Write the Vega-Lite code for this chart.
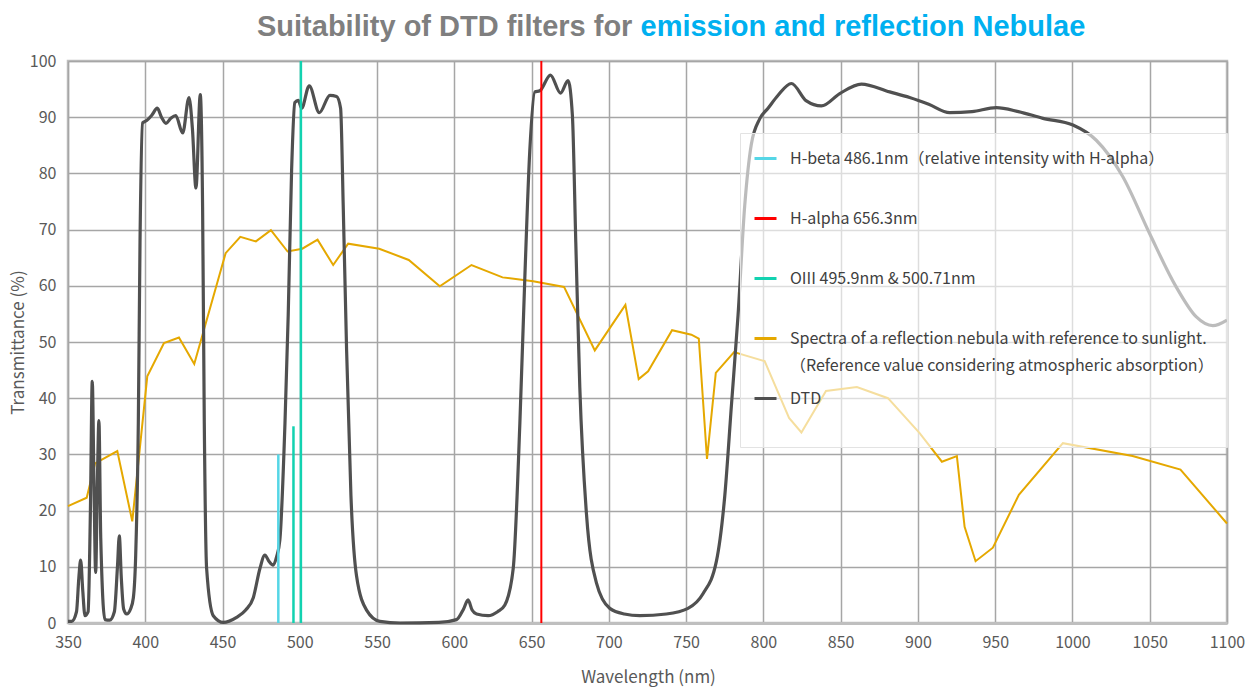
{
  "$schema": "https://vega.github.io/schema/vega-lite/v6.json",
  "autosize": {"type": "none"},
  "width": 1159,
  "height": 562,
  "padding": {"left": 68, "top": 61, "right": 27, "bottom": 77},
  "background": "white",
  "title": {
    "text": "Suitability of DTD filters for",
    "anchor": "start",
    "frame": "group",
    "dx": 189,
    "dy": 53,
    "offset": 0,
    "baseline": "alphabetic",
    "font": "Liberation Sans",
    "fontSize": 29,
    "fontWeight": "bold",
    "color": "#7f7f7f"
  },
  "config": {
    "view": {"stroke": "#bfbfbf", "strokeWidth": 2.5},
    "axis": {
      "gridColor": "#a6a6a6",
      "gridWidth": 1.5,
      "gridOpacity": 1,
      "ticks": false,
      "labelFlush": false,
      "labelFont": "Noto Sans CJK JP",
      "labelFontSize": 16,
      "labelColor": "#595959",
      "titleFont": "Noto Sans CJK JP",
      "titleFontSize": 17,
      "titleFontWeight": "normal",
      "titleColor": "#595959"
    },
    "legend": {
      "orient": "none",
      "legendX": 672,
      "legendY": 72,
      "symbolType": "stroke",
      "symbolSize": 484,
      "symbolStrokeWidth": 3,
      "labelFont": "Noto Sans CJK JP",
      "labelFontSize": 16,
      "labelColor": "#404040",
      "labelOffset": 12,
      "labelLimit": 800,
      "rowPadding": 12,
      "padding": 13,
      "fillColor": "rgba(255,255,255,0.62)",
      "strokeColor": "#e3e3e3"
    }
  },
  "datasets": {
    "dtd": [
      {"nm": 350, "value": 0.3}, {"nm": 352.4, "value": 0.3}, {"nm": 355.5, "value": 2}, {"nm": 357, "value": 8},
      {"nm": 358.2, "value": 11.2}, {"nm": 359.5, "value": 6}, {"nm": 361, "value": 1.3}, {"nm": 363, "value": 2},
      {"nm": 364.5, "value": 20}, {"nm": 365.7, "value": 43}, {"nm": 366.8, "value": 25}, {"nm": 367.9, "value": 9},
      {"nm": 369, "value": 25}, {"nm": 370, "value": 36}, {"nm": 371.2, "value": 15}, {"nm": 373.9, "value": 0.6},
      {"nm": 377, "value": 0.5}, {"nm": 380, "value": 2}, {"nm": 382, "value": 10}, {"nm": 383.2, "value": 15.5},
      {"nm": 384.5, "value": 8}, {"nm": 386, "value": 2.5}, {"nm": 388, "value": 1.6}, {"nm": 390.5, "value": 2.5},
      {"nm": 392.3, "value": 4.5}, {"nm": 393.8, "value": 12}, {"nm": 395.5, "value": 35.5}, {"nm": 396.6, "value": 67.7},
      {"nm": 398.3, "value": 89}, {"nm": 400.9, "value": 89.4}, {"nm": 404.1, "value": 90.3}, {"nm": 407.8, "value": 91.6},
      {"nm": 410.5, "value": 90}, {"nm": 413.4, "value": 88.9}, {"nm": 416.5, "value": 89.8}, {"nm": 419.7, "value": 90.3},
      {"nm": 424.2, "value": 87.2}, {"nm": 428.3, "value": 93.5}, {"nm": 430.5, "value": 88}, {"nm": 432.8, "value": 77.4},
      {"nm": 435.6, "value": 94}, {"nm": 437.1, "value": 74}, {"nm": 438.2, "value": 35.5}, {"nm": 439.7, "value": 9.7},
      {"nm": 444, "value": 1.3}, {"nm": 450.5, "value": 0.1}, {"nm": 459.1, "value": 1}, {"nm": 465, "value": 2.3},
      {"nm": 469.9, "value": 4.5}, {"nm": 474.2, "value": 9.7}, {"nm": 477.4, "value": 12.1}, {"nm": 480, "value": 11},
      {"nm": 482.8, "value": 10.3}, {"nm": 485, "value": 11.8}, {"nm": 487.1, "value": 14.8}, {"nm": 490.4, "value": 35.5},
      {"nm": 492.5, "value": 54.8}, {"nm": 494.7, "value": 80.6}, {"nm": 496.8, "value": 92.6}, {"nm": 499, "value": 93},
      {"nm": 501.2, "value": 91.6}, {"nm": 506.1, "value": 95.6}, {"nm": 512.6, "value": 90.8}, {"nm": 519.5, "value": 93.9},
      {"nm": 523.8, "value": 93.7}, {"nm": 526.4, "value": 91.6}, {"nm": 528.1, "value": 74.2}, {"nm": 530.3, "value": 48.4},
      {"nm": 533.1, "value": 22.6}, {"nm": 536.7, "value": 8.4}, {"nm": 543.2, "value": 2.3}, {"nm": 551.8, "value": 0.3},
      {"nm": 565, "value": 0}, {"nm": 590, "value": 0.1}, {"nm": 601.4, "value": 0.6}, {"nm": 606, "value": 2.5},
      {"nm": 608.9, "value": 4.1}, {"nm": 611.5, "value": 2.3}, {"nm": 614.4, "value": 1.6}, {"nm": 621.9, "value": 1.3},
      {"nm": 628, "value": 2}, {"nm": 632.7, "value": 3.2}, {"nm": 638.1, "value": 9.7}, {"nm": 642.4, "value": 35.5},
      {"nm": 645.6, "value": 61.3}, {"nm": 648.8, "value": 83.9}, {"nm": 652.1, "value": 94.5}, {"nm": 655.3, "value": 94.7},
      {"nm": 662.2, "value": 97.5}, {"nm": 668.7, "value": 94.3}, {"nm": 673.6, "value": 96.5}, {"nm": 676.4, "value": 90.3},
      {"nm": 678.6, "value": 67.7}, {"nm": 681.2, "value": 41.9}, {"nm": 685.5, "value": 19.4}, {"nm": 692, "value": 7.1},
      {"nm": 700.6, "value": 2.6}, {"nm": 710, "value": 1.6}, {"nm": 720, "value": 1.3}, {"nm": 737.2, "value": 1.6},
      {"nm": 751.2, "value": 2.6}, {"nm": 760.9, "value": 5.2}, {"nm": 769.6, "value": 11}, {"nm": 775, "value": 22.6},
      {"nm": 779.3, "value": 38.7}, {"nm": 783.6, "value": 54.8}, {"nm": 787.9, "value": 74.2}, {"nm": 792.2, "value": 85.2},
      {"nm": 797.6, "value": 89.7}, {"nm": 803, "value": 91.6}, {"nm": 809.5, "value": 93.9}, {"nm": 818.1, "value": 96},
      {"nm": 827.8, "value": 92.9}, {"nm": 837.5, "value": 92}, {"nm": 849.4, "value": 94.2}, {"nm": 863.4, "value": 95.9},
      {"nm": 881.7, "value": 94.5}, {"nm": 894.6, "value": 93.5}, {"nm": 907, "value": 92.3}, {"nm": 920.5, "value": 90.8},
      {"nm": 935, "value": 91}, {"nm": 950.7, "value": 91.7}, {"nm": 965, "value": 91}, {"nm": 980.9, "value": 89.8},
      {"nm": 1000.3, "value": 88.6}, {"nm": 1015.4, "value": 85.9}, {"nm": 1032.6, "value": 79.4}, {"nm": 1049.9, "value": 69.3},
      {"nm": 1067.1, "value": 59.8}, {"nm": 1080, "value": 54.5}, {"nm": 1090.8, "value": 52.9}, {"nm": 1100, "value": 53.9}
    ],
    "spectra": [
      {"nm": 350, "value": 20.8}, {"nm": 362.1, "value": 22.3}, {"nm": 367.5, "value": 28.4}, {"nm": 381.9, "value": 30.6},
      {"nm": 391.6, "value": 18.1}, {"nm": 401.3, "value": 43.9}, {"nm": 412.1, "value": 49.8}, {"nm": 421.8, "value": 50.8},
      {"nm": 431.7, "value": 46.1}, {"nm": 452, "value": 65.8}, {"nm": 461.5, "value": 68.7}, {"nm": 471.6, "value": 67.9},
      {"nm": 481.3, "value": 69.9}, {"nm": 492.1, "value": 66.1}, {"nm": 501.6, "value": 66.6}, {"nm": 511.5, "value": 68.2},
      {"nm": 521.6, "value": 63.7}, {"nm": 531.3, "value": 67.5}, {"nm": 551.4, "value": 66.6}, {"nm": 570.5, "value": 64.6},
      {"nm": 590.6, "value": 59.9}, {"nm": 611.1, "value": 63.7}, {"nm": 631.2, "value": 61.5}, {"nm": 651, "value": 60.8},
      {"nm": 671, "value": 59.8}, {"nm": 690.9, "value": 48.5}, {"nm": 710.7, "value": 56.6}, {"nm": 719.3, "value": 43.4},
      {"nm": 725.4, "value": 44.8}, {"nm": 740.9, "value": 52.1}, {"nm": 753.4, "value": 51.3}, {"nm": 758.2, "value": 50.6},
      {"nm": 763.5, "value": 29.2}, {"nm": 769.2, "value": 44.5}, {"nm": 781, "value": 48.2}, {"nm": 800.8, "value": 46.6},
      {"nm": 816.6, "value": 36.5}, {"nm": 824.6, "value": 33.9}, {"nm": 840.5, "value": 41.3}, {"nm": 860.5, "value": 42},
      {"nm": 880.6, "value": 40}, {"nm": 901.1, "value": 33.8}, {"nm": 915.5, "value": 28.7}, {"nm": 925.2, "value": 29.7},
      {"nm": 930.2, "value": 17.1}, {"nm": 937.3, "value": 11}, {"nm": 948.5, "value": 13.4}, {"nm": 965.3, "value": 22.8},
      {"nm": 993.8, "value": 32}, {"nm": 1038.9, "value": 29.7}, {"nm": 1069.9, "value": 27.3}, {"nm": 1100, "value": 17.7}
    ],
    "hbeta": [{"nm": 486.1, "top": 30}],
    "halpha": [{"nm": 656.3, "top": 100}],
    "oiii": [{"nm": 495.9, "top": 35}, {"nm": 500.71, "top": 100}]
  },
  "resolve": {"axis": {"x": "independent"}},
  "layer": [
    {
      "data": {"name": "spectra"},
      "transform": [{"calculate": "'Spectra of a reflection nebula with reference to sunlight.'", "as": "series"}],
      "mark": {"type": "line", "strokeWidth": 2},
      "encoding": {
        "x": {
          "field": "nm", "type": "quantitative",
          "scale": {"domain": [350, 1100], "nice": false, "zero": false},
          "axis": {
            "values": [350, 400, 450, 500, 550, 600, 650, 700, 750, 800, 850, 900, 950, 1000, 1050, 1100],
            "format": "d",
            "title": "Wavelength (nm)",
            "labelPadding": 11,
            "domainColor": "#bfbfbf",
            "domainWidth": 3,
            "titleX": 580,
            "titleY": 54,
            "titleAlign": "center",
            "titleBaseline": "middle"
          }
        },
        "y": {
          "field": "value", "type": "quantitative",
          "scale": {"domain": [0, 100], "nice": false},
          "axis": {
            "values": [0, 10, 20, 30, 40, 50, 60, 70, 80, 90, 100],
            "title": "Transmittance (%)",
            "labelPadding": 12,
            "domain": false,
            "titleX": -50,
            "titleY": 281,
            "titleAngle": -90,
            "titleAlign": "center",
            "titleBaseline": "middle"
          }
        },
        "color": {
          "field": "series", "type": "nominal",
          "scale": {
            "domain": [
              "H-beta 486.1nm（relative intensity with H-alpha）",
              "H-alpha 656.3nm",
              "OIII 495.9nm & 500.71nm",
              "Spectra of a reflection nebula with reference to sunlight.",
              "DTD"
            ],
            "range": ["#55d6e6", "#ff0000", "#12d2b0", "#e5a800", "#505050"]
          },
          "legend": {
            "title": null,
            "labelExpr": "datum.label == 'Spectra of a reflection nebula with reference to sunlight.' ? ['Spectra of a reflection nebula with reference to sunlight.\u00a0\u00a0\u00a0\u00a0\u00a0\u00a0\u00a0\u00a0', '\u00a0（Reference value considering atmospheric absorption）'] : [datum.label, '\u00a0']",
            "encode": {"labels": {"update": {"lineHeight": {"value": 27}}}}
          }
        }
      }
    },
    {
      "data": {"name": "dtd"},
      "transform": [{"calculate": "'DTD'", "as": "series"}],
      "mark": {"type": "line", "strokeWidth": 3.2, "interpolate": "monotone"},
      "encoding": {
        "x": {"field": "nm", "type": "quantitative", "axis": null},
        "y": {"field": "value", "type": "quantitative"},
        "color": {"field": "series", "type": "nominal"}
      }
    },
    {
      "data": {"name": "hbeta"},
      "transform": [{"calculate": "'H-beta 486.1nm（relative intensity with H-alpha）'", "as": "series"}],
      "mark": {"type": "rule", "strokeWidth": 2.5},
      "encoding": {
        "x": {"field": "nm", "type": "quantitative", "axis": null},
        "y": {"field": "top", "type": "quantitative"},
        "y2": {"datum": 0},
        "color": {"field": "series", "type": "nominal"}
      }
    },
    {
      "data": {"name": "oiii"},
      "transform": [{"calculate": "'OIII 495.9nm & 500.71nm'", "as": "series"}],
      "mark": {"type": "rule", "strokeWidth": 2.5},
      "encoding": {
        "x": {"field": "nm", "type": "quantitative", "axis": null},
        "y": {"field": "top", "type": "quantitative"},
        "y2": {"datum": 0},
        "color": {"field": "series", "type": "nominal"}
      }
    },
    {
      "data": {"name": "halpha"},
      "transform": [{"calculate": "'H-alpha 656.3nm'", "as": "series"}],
      "mark": {"type": "rule", "strokeWidth": 2},
      "encoding": {
        "x": {
          "field": "nm", "type": "quantitative",
          "axis": {
            "orient": "top",
            "title": "emission and reflection Nebulae",
            "labels": false,
            "ticks": false,
            "domain": false,
            "grid": false,
            "titleFont": "Liberation Sans",
            "titleFontSize": 29,
            "titleFontWeight": "bold",
            "titleColor": "#00b0f0",
            "titleX": 572,
            "titleY": -26,
            "titleAlign": "left",
            "titleAnchor": "start",
            "titleBaseline": "alphabetic"
          }
        },
        "y": {"field": "top", "type": "quantitative"},
        "y2": {"datum": 0},
        "color": {"field": "series", "type": "nominal"}
      }
    }
  ]
}
